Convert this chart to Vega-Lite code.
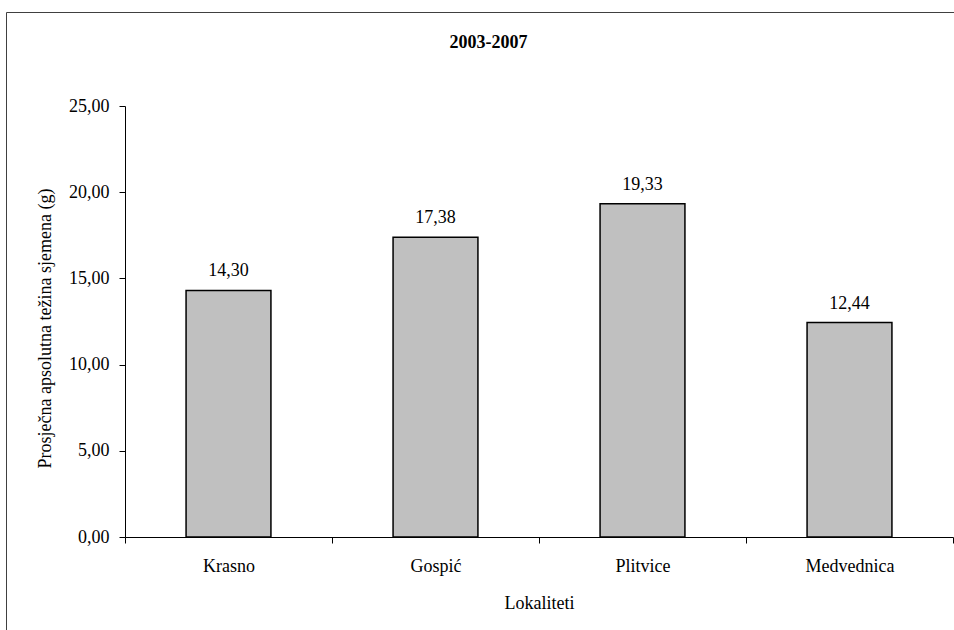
{
  "$schema": "https://vega.github.io/schema/vega-lite/v6.json",
  "autosize": {"type": "none"},
  "padding": {"left": 6, "top": 12, "right": -8, "bottom": -10},
  "width": 956,
  "height": 628,
  "title": {"text": "2003-2007", "font": "Liberation Serif", "fontSize": 18, "fontWeight": "bold", "anchor": "middle", "frame": "group", "offset": 0, "dy": 40, "dx": 4.5, "color": "#000"},
  "data": {"values": [
    {"lokalitet": "Krasno", "vrijednost": 14.30},
    {"lokalitet": "Gospić", "vrijednost": 17.38},
    {"lokalitet": "Plitvice", "vrijednost": 19.33},
    {"lokalitet": "Medvednica", "vrijednost": 12.44}
  ]},
  "encoding": {
    "x": {"field": "lokalitet", "type": "nominal", "sort": null,
      "scale": {"range": [119, 947], "paddingInner": 0, "paddingOuter": 0},
      "axis": {"title": "Lokaliteti", "labelAngle": 0, "offset": -103, "tickBand": "extent", "tickSize": 6, "labelPadding": 14, "titlePadding": 19}},
    "y": {"field": "vrijednost", "type": "quantitative",
      "scale": {"domain": [0, 25], "range": [525, 94], "nice": false, "zero": true},
      "axis": {"title": "Prosječna apsolutna težina sjemena (g)", "values": [0, 5, 10, 15, 20, 25], "format": ".2f", "offset": -119, "tickSize": 6, "labelPadding": 10, "titlePadding": 14, "titleY": 316, "grid": false}}
  },
  "layer": [
    {"mark": {"type": "bar", "width": {"band": 0.41}, "fill": "#C0C0C0", "stroke": "#000", "strokeWidth": 1.5}},
    {"mark": {"type": "text", "baseline": "alphabetic", "dy": -14, "font": "Liberation Serif", "fontSize": 18, "color": "#000"},
     "encoding": {"text": {"field": "vrijednost", "type": "quantitative", "format": ".2f"}}}
  ],
  "config": {
    "view": {"stroke": "#404040", "strokeWidth": 1},
    "locale": {"number": {"decimal": ",", "thousands": ".", "grouping": [3], "currency": ["", " kn"]}},
    "axis": {"labelFont": "Liberation Serif", "labelFontSize": 18, "labelColor": "#000", "titleFont": "Liberation Serif", "titleFontSize": 18, "titleFontWeight": "normal", "titleColor": "#000", "domainColor": "#000", "tickColor": "#000", "domainWidth": 1, "tickWidth": 1, "grid": false}
  }
}
